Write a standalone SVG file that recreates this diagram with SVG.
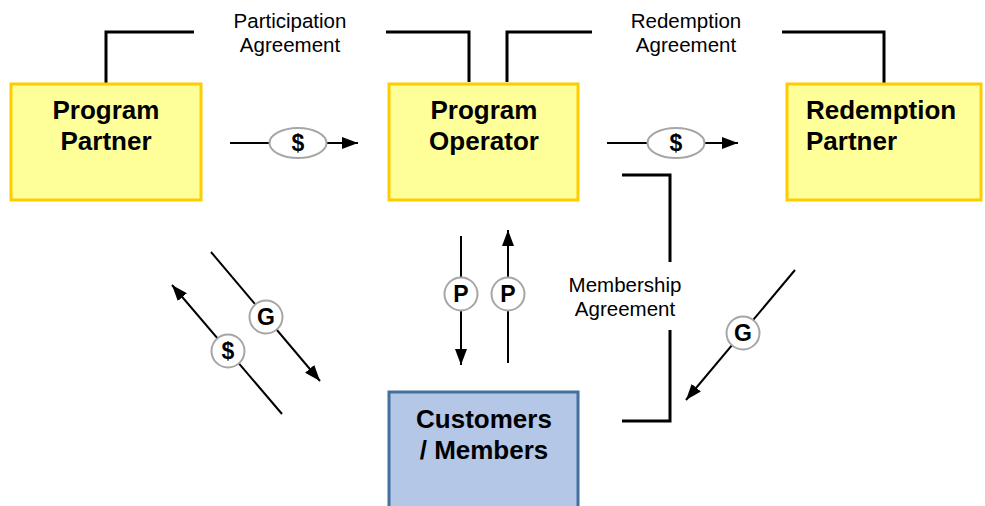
<svg xmlns="http://www.w3.org/2000/svg" width="985" height="506" viewBox="0 0 985 506">
<defs>
<marker id="ah" viewBox="0 0 16 12" refX="16" refY="6" markerWidth="16" markerHeight="12" markerUnits="userSpaceOnUse" orient="auto">
<path d="M0,0 L16,6 L0,12 z" fill="#000"/>
</marker>
<style>
.box{fill:#FFFF99;stroke:#FFCC00;stroke-width:3}
.cust{fill:#B4C7E7;stroke:#41719C;stroke-width:3}
.nt{font-family:"Liberation Sans",Arial,sans-serif;font-weight:bold;font-size:26px;fill:#000}
.lt{font-family:"Liberation Sans",Arial,sans-serif;font-size:20.5px;fill:#000;text-anchor:middle}
.br{fill:none;stroke:#000;stroke-width:3}
.ar{fill:none;stroke:#000;stroke-width:2;marker-end:url(#ah)}
.tok{fill:#fff;stroke:#A6A6A6;stroke-width:2}
.tt{font-family:"Liberation Sans",Arial,sans-serif;font-weight:bold;font-size:23px;fill:#000;text-anchor:middle}
</style>
</defs>
<rect width="985" height="506" fill="#fff"/>
<g id="connectors">
<polyline class="br" points="106,84 106,32 194,32"/>
<polyline class="br" points="386,32 469,32 469,82"/>
<polyline class="br" points="507,82 507,32 592,32"/>
<polyline class="br" points="782,32 884,32 884,84"/>
<polyline class="br" points="622,175 670,175 670,262"/>
<polyline class="br" points="670,330 670,421 622,421"/>
<line class="ar" x1="230" y1="143" x2="358" y2="143"/>
<line class="ar" x1="607" y1="143" x2="738" y2="143"/>
<line class="ar" x1="461" y1="236" x2="461" y2="365"/>
<line class="ar" x1="508" y1="363" x2="508" y2="230"/>
<line class="ar" x1="211" y1="252" x2="320" y2="381"/>
<line class="ar" x1="282" y1="414" x2="172" y2="285"/>
<line class="ar" x1="795" y1="270" x2="686" y2="400"/>
</g>
<g id="label-participation">
<text class="lt" x="290" y="28">Participation</text>
<text class="lt" x="290" y="52">Agreement</text>
</g>
<g id="label-redemption">
<text class="lt" x="686" y="28">Redemption</text>
<text class="lt" x="686" y="52">Agreement</text>
</g>
<g id="label-membership">
<text class="lt" x="625" y="292">Membership</text>
<text class="lt" x="625" y="316">Agreement</text>
</g>
<g id="program-partner">
<rect class="box" x="11" y="84" width="190" height="116"/>
<text class="nt" x="106" y="119" text-anchor="middle">Program</text>
<text class="nt" x="106" y="150" text-anchor="middle">Partner</text>
</g>
<g id="program-operator">
<rect class="box" x="389" y="84" width="189" height="116"/>
<text class="nt" x="484" y="119" text-anchor="middle">Program</text>
<text class="nt" x="484" y="150" text-anchor="middle">Operator</text>
</g>
<g id="redemption-partner">
<rect class="box" x="787" y="84" width="194" height="116"/>
<text class="nt" x="806" y="119">Redemption</text>
<text class="nt" x="806" y="150">Partner</text>
</g>
<g id="customers">
<rect class="cust" x="389" y="392" width="189" height="130"/>
<text class="nt" x="484" y="428" text-anchor="middle">Customers</text>
<text class="nt" x="484" y="459" text-anchor="middle">/ Members</text>
</g>
<g id="tokens">
<ellipse class="tok" cx="298" cy="143" rx="28.5" ry="15"/>
<text class="tt" x="298" y="151">$</text>
<ellipse class="tok" cx="676" cy="143" rx="28.5" ry="15"/>
<text class="tt" x="676" y="151">$</text>
<circle class="tok" cx="461" cy="294" r="16.5"/>
<text class="tt" x="461" y="302">P</text>
<circle class="tok" cx="508" cy="294" r="16.5"/>
<text class="tt" x="508" y="302">P</text>
<circle class="tok" cx="266" cy="317" r="16.5"/>
<text class="tt" x="266" y="325">G</text>
<circle class="tok" cx="228" cy="351" r="16.5"/>
<text class="tt" x="228" y="359">$</text>
<circle class="tok" cx="743" cy="333" r="16.5"/>
<text class="tt" x="743" y="341">G</text>
</g>
</svg>
